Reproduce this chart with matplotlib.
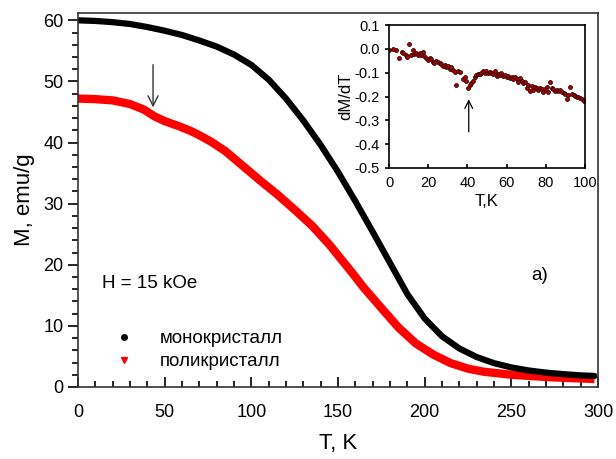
import matplotlib
matplotlib.use('Agg')
import matplotlib.pyplot as plt
from matplotlib.lines import Line2D
from matplotlib.ticker import MultipleLocator, FormatStrFormatter

plt.rcParams['font.family'] = ['Liberation Sans', 'DejaVu Sans']
plt.rcParams['axes.unicode_minus'] = False

#%% Data: M(T)
T_mono = [0, 10, 20, 30, 40, 50, 60, 70, 80, 90, 100, 110, 120, 130, 140, 150,
          160, 170, 180, 190, 200, 210, 220, 230, 240, 250, 260, 270, 280, 290, 298]
M_mono = [60.0, 59.9, 59.7, 59.4, 58.9, 58.3, 57.6, 56.7, 55.7, 54.4, 52.7, 50.3,
          47.2, 43.6, 39.6, 35.2, 30.4, 25.4, 20.3, 15.2, 11.2, 8.3, 6.3, 4.9,
          3.9, 3.2, 2.7, 2.35, 2.1, 1.9, 1.8]

T_poly = [0, 10, 20, 30, 38, 44, 50, 58, 65, 70, 77, 85, 95, 105, 115, 125, 135, 145,
          151, 157, 165, 176, 185, 195, 205, 215, 225, 234, 250, 272, 298]
M_poly = [47.2, 47.1, 46.9, 46.3, 45.4, 44.3, 43.5, 42.7, 41.9, 41.2, 40.1, 38.6, 36.2,
          33.8, 31.5, 29.0, 26.4, 23.3, 21.2, 19.1, 16.2, 12.6, 9.7, 7.1, 5.3,
          3.9, 3.0, 2.5, 2.0, 1.6, 1.3]

#%% Data: inset dM/dT
T_d = [0.0, 1.9, 3.6, 5.3, 6.5, 7.3, 8.7, 9.4, 10.4, 11.1, 12.1, 13.0, 13.8, 14.7,
       15.6, 16.4, 17.3, 18.1, 19.0, 19.8, 20.7, 21.5, 22.4, 23.2, 24.1, 24.9,
       25.8, 26.7, 27.5, 28.4, 29.2, 30.1, 30.9, 31.8, 32.6, 33.5, 34.4, 35.2,
       36.1, 37.8, 38.6, 39.5, 40.3, 41.2, 42.1, 42.9, 43.8, 44.6, 45.5, 46.3,
       47.2, 48.0, 48.9, 49.7, 50.6, 51.5, 52.3, 53.2, 54.0, 54.9, 55.7, 56.6,
       57.4, 58.3, 59.1, 60.0, 60.9, 61.7, 62.6, 63.4, 64.3, 65.1, 66.0, 66.8,
       67.7, 68.5, 69.4, 70.3, 71.1, 72.0, 72.8, 73.7, 74.5, 75.4, 76.2, 77.1,
       77.9, 78.8, 79.7, 80.5, 81.4, 82.2, 83.1, 83.9, 84.8, 85.6, 86.5, 87.4,
       88.2, 89.1, 89.9, 90.8, 91.6, 92.5, 93.3, 94.2, 95.0, 95.9, 96.7, 97.6,
       98.5, 99.3]
dMdT = [-0.003, 0.0, -0.005, -0.037, -0.012, -0.019, -0.026, -0.033, 0.02, -0.026,
        -0.005, -0.022, -0.019, -0.026, -0.016, -0.026, -0.015, -0.03, -0.04,
        -0.047, -0.04, -0.044, -0.056, -0.058, -0.049, -0.056, -0.06, -0.065,
        -0.072, -0.068, -0.075, -0.07, -0.084, -0.075, -0.089, -0.096, -0.152,
        -0.091, -0.096, -0.128, -0.12, -0.134, -0.166, -0.152, -0.142, -0.134,
        -0.12, -0.11, -0.105, -0.105, -0.103, -0.091, -0.103, -0.091, -0.1,
        -0.096, -0.1, -0.105, -0.091, -0.114, -0.105, -0.11, -0.103, -0.114,
        -0.11, -0.12, -0.114, -0.124, -0.12, -0.128, -0.117, -0.128, -0.138,
        -0.124, -0.134, -0.142, -0.138, -0.166, -0.152, -0.176, -0.156, -0.173,
        -0.161, -0.166, -0.173, -0.166, -0.17, -0.18, -0.17, -0.161, -0.18,
        -0.138, -0.166, -0.17, -0.176, -0.173, -0.176, -0.173, -0.18, -0.184,
        -0.19, -0.212, -0.194, -0.161, -0.19, -0.194, -0.198, -0.201, -0.201,
        -0.208, -0.212, -0.218]

#%% Main plot
fig = plt.figure(figsize=(6.16, 4.59), dpi=100)
ax = fig.add_axes([0.1266, 0.1569, 0.8442, 0.8148])

ax.plot(T_poly, M_poly, color='red', lw=6, solid_capstyle='butt',
        solid_joinstyle='round')
ax.plot(T_mono, M_mono, color='black', lw=4.5, solid_capstyle='round',
        solid_joinstyle='round')

ax.set_xlim(0, 300)
ax.set_ylim(0, 61.2)
ax.xaxis.set_major_locator(MultipleLocator(50))
ax.xaxis.set_minor_locator(MultipleLocator(10))
ax.yaxis.set_major_locator(MultipleLocator(10))
ax.yaxis.set_minor_locator(MultipleLocator(2))
ax.tick_params(axis='x', which='both', direction='in', labelsize=13, pad=12, top=False)
ax.tick_params(axis='x', which='major', length=7, width=1.2)
ax.tick_params(axis='x', which='minor', length=4, width=1.2)
ax.tick_params(axis='y', which='both', direction='out', labelsize=13, right=False)
ax.tick_params(axis='y', which='major', length=7, width=1.2)
ax.tick_params(axis='y', which='minor', length=4, width=1.2)
for s in ax.spines.values():
    s.set_color('#333333')
    s.set_linewidth(1.2)

ax.set_xlabel('T, K', fontsize=16, labelpad=9)
ax.set_ylabel('M, emu/g', fontsize=16, labelpad=6)

ax.text(13.7, 17.0, 'H = 15 kOe', fontsize=13.5, va='center', ha='left')
ax.text(266.5, 18.3, 'a)', fontsize=13.5, va='center', ha='center')
ax.annotate('', xy=(43.3, 45.3), xytext=(43.3, 53.2),
            arrowprops=dict(arrowstyle='->', color='#333333', lw=1.0,
                            mutation_scale=18))

handles = [Line2D([], [], ls='', marker='o', color='black', markersize=4),
           Line2D([], [], ls='', marker='v', color='red', markersize=5)]
ax.legend(handles, ['монокристалл', 'поликристалл'], loc='lower left',
          bbox_to_anchor=(0.02, 0.0), frameon=False, fontsize=13.5,
          handletextpad=0.9, labelspacing=0.3)

#%% Inset
ins = fig.add_axes([0.6315, 0.634, 0.318, 0.3115])
ins.plot(T_d, dMdT, ls='', marker='o', markersize=2.8, markerfacecolor='#b00000',
         markeredgecolor='#300000', markeredgewidth=0.6)
ins.set_xlim(0, 100)
ins.set_ylim(-0.5, 0.1)
ins.xaxis.set_major_locator(MultipleLocator(20))
ins.yaxis.set_major_locator(MultipleLocator(0.1))
ins.yaxis.set_major_formatter(FormatStrFormatter('%.1f'))
ins.tick_params(axis='x', direction='in', length=3, width=1.2, labelsize=10.5, pad=6)
ins.tick_params(axis='y', direction='out', length=3, width=1.2, labelsize=10.5)
for s in ins.spines.values():
    s.set_linewidth(1.2)
ins.set_xlabel('T,K', fontsize=12, labelpad=3)
ins.set_ylabel('dM/dT', fontsize=12, labelpad=1)
ins.annotate('', xy=(40.7, -0.2), xytext=(40.7, -0.36),
             arrowprops=dict(arrowstyle='->', color='black', lw=0.9,
                             mutation_scale=14))

fig.savefig('out.png', dpi=100)
